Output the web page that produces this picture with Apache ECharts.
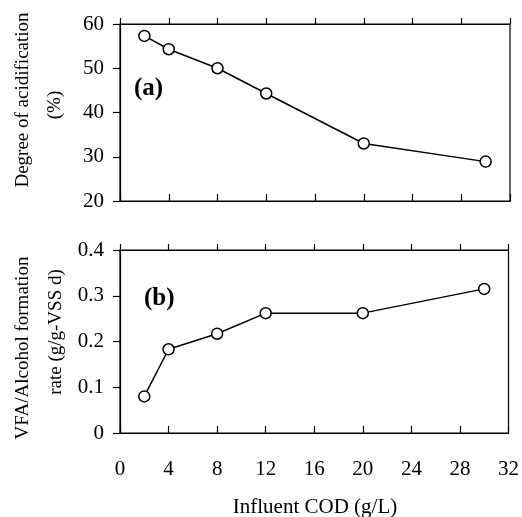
<!DOCTYPE html>
<html>
<head>
<meta charset="utf-8">
<script src="https://cdn.jsdelivr.net/npm/echarts@6/dist/echarts.min.js"></script>
<style>html,body{margin:0;padding:0;background:#fff;}#chart{width:522px;height:517px;}</style>
</head>
<body>
<div id="chart"></div>
<script>
// Data
const codX = [2, 4, 8, 12, 20, 30];                       // Influent COD (g/L)
const acidification = [57.3, 54.3, 50.0, 44.3, 33.0, 28.9]; // Degree of acidification (%)
const formationRate = [0.080, 0.183, 0.217, 0.262, 0.262, 0.315]; // VFA/Alcohol formation rate
const xTicks = [0, 4, 8, 12, 16, 20, 24, 28, 32];
const yTicksA = [20, 30, 40, 50, 60];
const yTicksB = [0, 0.1, 0.2, 0.3, 0.4];
const panelLabels = ['(a)', '(b)'];
const yNamesA = ['Degree of acidification', '(%)'];
const yNamesB = ['VFA/Alcohol formation', 'rate (g/g-VSS d)'];
const xName = 'Influent COD (g/L)';

const FONT = '"Liberation Serif", "Times New Roman", serif';
const pair = (xs, ys) => xs.map((x, i) => [x, ys[i]]);

const chart = echarts.init(document.getElementById('chart'));

function xAxisDef(gridIndex, showLabels, inside) {
  return {
    type: 'value', gridIndex: gridIndex,
    min: xTicks[0], max: xTicks[xTicks.length - 1], interval: 4,
    axisLine: { show: true, onZero: false, lineStyle: { color: '#000', width: 1.2 } },
    axisTick: { show: true, inside: inside, length: 7, lineStyle: { color: '#000', width: 1.2 } },
    axisLabel: { show: showLabels, color: '#000', fontFamily: FONT, fontSize: 21, margin: 26 },
    splitLine: { show: false }
  };
}
function yAxisDef(gridIndex, ticks, fmt) {
  return {
    type: 'value', gridIndex: gridIndex,
    min: ticks[0], max: ticks[ticks.length - 1], interval: ticks[1] - ticks[0],
    axisLine: { show: true, onZero: false, lineStyle: { color: '#000', width: 1.2 } },
    axisTick: { show: true, inside: false, length: 7, lineStyle: { color: '#000', width: 1.2 } },
    axisLabel: { color: '#000', fontFamily: FONT, fontSize: 21, margin: 16, formatter: fmt },
    splitLine: { show: false }
  };
}

const seriesStyle = {
  type: 'line', symbol: 'circle', symbolSize: 11,
  lineStyle: { color: '#000', width: 1.5 },
  itemStyle: { color: '#fff', borderColor: '#000', borderWidth: 1.5 },
  z: 5, animation: false
};

function rotatedText(text, cx, cy, size, weight) {
  return {
    type: 'text', x: cx, y: cy, rotation: Math.PI / 2,
    style: { text: text, fontFamily: FONT, fontSize: size, fontWeight: weight || 'normal', fill: '#000',
             align: 'center', verticalAlign: 'middle' }
  };
}

chart.setOption({
  animation: false,
  backgroundColor: '#fff',
  grid: [
    { left: 120, right: 12, top: 24, height: 177, show: true, borderColor: '#000', borderWidth: 1.2, backgroundColor: 'transparent' },
    { left: 120, right: 12, top: 250, height: 183, show: true, borderColor: '#000', borderWidth: 1.2, backgroundColor: 'transparent' }
  ],
  xAxis: [
    xAxisDef(0, false, true),
    xAxisDef(1, true, true),
    Object.assign(xAxisDef(0, false, false), { axisTick: { show: true, inside: false, length: 6, lineStyle: { color: '#000', width: 1.2 } } }),
    Object.assign(xAxisDef(1, false, false), { axisTick: { show: true, inside: false, length: 6, lineStyle: { color: '#000', width: 1.2 } } })
  ],
  yAxis: [
    yAxisDef(0, yTicksA, v => String(v)),
    yAxisDef(1, yTicksB, v => (v === 0 ? '0' : v.toFixed(1)))
  ],
  series: [
    Object.assign({}, seriesStyle, { xAxisIndex: 0, yAxisIndex: 0, data: pair(codX, acidification) }),
    Object.assign({}, seriesStyle, { xAxisIndex: 1, yAxisIndex: 1, data: pair(codX, formationRate) })
  ],
  graphic: [
    { type: 'text', x: 134, y: 76, style: { text: panelLabels[0], fontFamily: FONT, fontSize: 25, fontWeight: 'bold', fill: '#000' } },
    { type: 'text', x: 144, y: 286, style: { text: panelLabels[1], fontFamily: FONT, fontSize: 25, fontWeight: 'bold', fill: '#000' } },
    rotatedText(yNamesA[0], 23, 100, 19),
    rotatedText(yNamesA[1], 55, 105, 19),
    rotatedText(yNamesB[0], 23, 348, 19),
    rotatedText(yNamesB[1], 56, 332, 19),
    { type: 'text', x: 315, y: 507,
      style: { text: xName, fontFamily: FONT, fontSize: 21, fill: '#000', align: 'center', verticalAlign: 'middle' } }
  ]
});
</script>
</body>
</html>
